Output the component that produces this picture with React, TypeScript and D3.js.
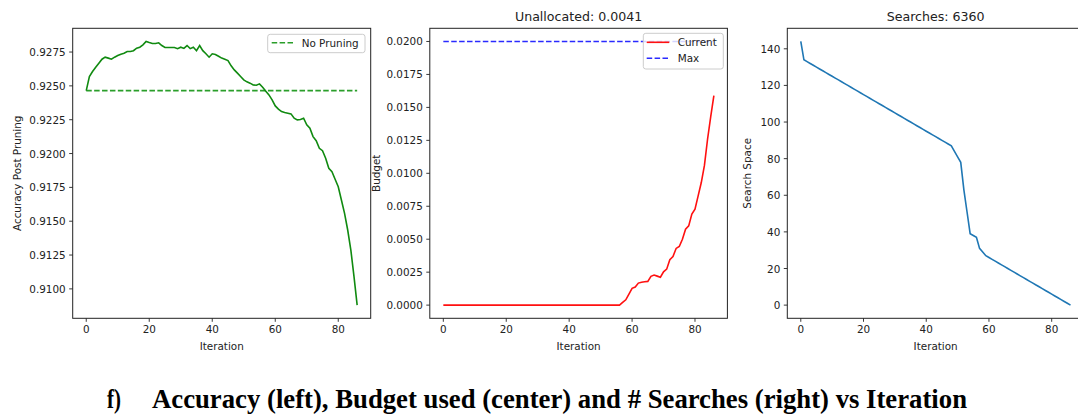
import React from "react";
import * as d3 from "d3";

// ---------- data ----------
const accuracy = [
  0.92465, 0.92569, 0.92606, 0.92638, 0.92668, 0.92697, 0.92712, 0.92705, 0.92697, 0.92712,
  0.92724, 0.92734, 0.92741, 0.92754, 0.92754, 0.9276, 0.92779, 0.92786, 0.92803, 0.92828,
  0.9282, 0.92813, 0.92813, 0.92818, 0.92798, 0.92784, 0.92784, 0.92784, 0.92784, 0.92775,
  0.92786, 0.92777, 0.92798, 0.92775, 0.92786, 0.9276, 0.92798, 0.9276, 0.92737, 0.92712,
  0.92737, 0.92732, 0.92719, 0.92705, 0.92697, 0.92687, 0.92648, 0.92618, 0.92594, 0.92569,
  0.92544, 0.9253, 0.9252, 0.92507, 0.92505, 0.92515, 0.9249, 0.92461, 0.92433, 0.92396,
  0.92352, 0.92328, 0.9231, 0.92303, 0.92298, 0.92293, 0.92261, 0.92249, 0.92251, 0.92261,
  0.92212, 0.92187, 0.92125, 0.92095, 0.92039, 0.92021, 0.91965, 0.91891, 0.91866, 0.9181,
  0.91755, 0.91657, 0.91558, 0.91435, 0.91287, 0.9109, 0.9088,
];
const noPruning = 0.92465;

const budgetCurrent = [
  0, 0, 0, 0, 0, 0, 0, 0, 0, 0,
  0, 0, 0, 0, 0, 0, 0, 0, 0, 0,
  0, 0, 0, 0, 0, 0, 0, 0, 0, 0,
  0, 0, 0, 0, 0, 0, 0, 0, 0, 0,
  0, 0, 0, 0, 0, 0, 0, 0, 0, 0,
  0, 0, 0, 0, 0, 0, 0, 0.0002, 0.0004, 0.00083,
  0.00127, 0.00137, 0.00167, 0.00174, 0.00177, 0.0018, 0.00218, 0.00228, 0.0022, 0.00212,
  0.00253, 0.00273, 0.00344, 0.00369, 0.0043, 0.00445, 0.005, 0.00576, 0.00601, 0.0069,
  0.00728, 0.00829, 0.0093, 0.0106, 0.0126, 0.0143, 0.0159,
];
const budgetMax = 0.02;

const searchSpace = [
  144, 134, 133, 132, 131, 130, 129, 128, 127, 126,
  125, 124, 123, 122, 121, 120, 119, 118, 117, 116,
  115, 114, 113, 112, 111, 110, 109, 108, 107, 106,
  105, 104, 103, 102, 101, 100, 99, 98, 97, 96,
  95, 94, 93, 92, 91, 90, 89, 88, 87, 84,
  81, 78, 63, 51, 39, 38, 37, 31, 29, 27,
  26, 25, 24, 23, 22, 21, 20, 19, 18, 17,
  16, 15, 14, 13, 12, 11, 10, 9, 8, 7,
  6, 5, 4, 3, 2, 1, 0,
];

const iterTicks = [0, 20, 40, 60, 80];
const accTicks = [0.91, 0.9125, 0.915, 0.9175, 0.92, 0.9225, 0.925, 0.9275];
const budgetTicks = [0, 0.0025, 0.005, 0.0075, 0.01, 0.0125, 0.015, 0.0175, 0.02];
const searchTicks = [0, 20, 40, 60, 80, 100, 120, 140];

const titleMiddle = "Unallocated: 0.0041";
const titleRight = "Searches: 6360";
const caption = "Accuracy (left), Budget used (center) and # Searches (right) vs Iteration";

// ---------- layout ----------
const W = 1078;
const H = 414;
const TOP = 28.3;
const BOTTOM = 318.3;
const FONT = "DejaVu Sans, sans-serif";
const TICK_FS = 10.4;

function padDomain(vals: number[]): [number, number] {
  const [lo, hi] = d3.extent(vals) as [number, number];
  const p = (hi - lo) * 0.05;
  return [lo - p, hi + p];
}

type PanelProps = {
  left: number;
  right: number;
  yVals: number[];
  yTicks: number[];
  yFmt: (v: number) => string;
  ylabel: string;
  ylabelX: number;
  title?: string;
  children: (x: d3.ScaleLinear<number, number>, y: d3.ScaleLinear<number, number>) => React.ReactNode;
};

const iters = accuracy.map((_, i) => i);

function Panel({ left, right, yVals, yTicks, yFmt, ylabel, ylabelX, title, children }: PanelProps) {
  const x = d3.scaleLinear().domain(padDomain(iters)).range([left, right]);
  const y = d3.scaleLinear().domain(padDomain(yVals)).range([BOTTOM, TOP]);
  const cx = (left + right) / 2;
  return (
    <g>
      {children(x, y)}
      <rect x={left} y={TOP} width={right - left} height={BOTTOM - TOP} fill="none" stroke="#222" strokeWidth={1} />
      {iterTicks.map((t) => (
        <g key={"x" + t}>
          <line x1={x(t)} x2={x(t)} y1={BOTTOM} y2={BOTTOM + 3.5} stroke="#222" strokeWidth={0.9} />
          <text x={x(t)} y={BOTTOM + 7} fontSize={TICK_FS} textAnchor="middle" dominantBaseline="hanging" fill="#222" fontFamily={FONT}>
            {t}
          </text>
        </g>
      ))}
      {yTicks.map((t) => (
        <g key={"y" + t}>
          <line x1={left - 3.5} x2={left} y1={y(t)} y2={y(t)} stroke="#222" strokeWidth={0.9} />
          <text x={left - 7} y={y(t)} fontSize={TICK_FS} textAnchor="end" dominantBaseline="central" fill="#222" fontFamily={FONT}>
            {yFmt(t)}
          </text>
        </g>
      ))}
      <text x={cx} y={349.5} fontSize={TICK_FS} textAnchor="middle" fill="#222" fontFamily={FONT}>
        Iteration
      </text>
      <text
        transform={`translate(${ylabelX},${(TOP + BOTTOM) / 2}) rotate(-90)`}
        fontSize={TICK_FS}
        textAnchor="middle"
        dominantBaseline="central"
        fill="#222"
        fontFamily={FONT}
      >
        {ylabel}
      </text>
      {title && (
        <text x={cx} y={21} fontSize={12.6} textAnchor="middle" fill="#222" fontFamily={FONT}>
          {title}
        </text>
      )}
    </g>
  );
}

const f4 = d3.format(".4f");

export default function App() {
  return (
    <svg width={W} height={H} style={{ position: "fixed", left: 0, top: 0, background: "#fff" }}>
      <rect x={0} y={0} width={W} height={H} fill="#fff" />
      {/* Left: accuracy */}
      <Panel left={72.7} right={370.7} yVals={[...accuracy, noPruning]} yTicks={accTicks} yFmt={f4} ylabel="Accuracy Post Pruning" ylabelX={16.7}>
        {(x, y) => {
          const line = d3.line<number>().x((_, i) => x(i)).y((d) => y(d));
          return (
            <g>
              <line x1={x(0)} x2={x(iters.length - 1)} y1={y(noPruning)} y2={y(noPruning)} stroke="#2a9e2a" strokeWidth={1.6} strokeDasharray="5.5,2.4" />
              <path d={line(accuracy) || ""} fill="none" stroke="#108a10" strokeWidth={1.6} />
              <rect x={267.7} y={34.3} width={97.3} height={18.4} rx={2.5} fill="#fff" fillOpacity={0.8} stroke="#ccc" strokeWidth={1} />
              <line x1={271.7} x2={293.3} y1={42.8} y2={42.8} stroke="#2a9e2a" strokeWidth={1.6} strokeDasharray="5.5,2.4" />
              <text x={301.7} y={42.8} fontSize={TICK_FS} dominantBaseline="central" fill="#222" fontFamily={FONT}>
                No Pruning
              </text>
            </g>
          );
        }}
      </Panel>
      {/* Middle: budget */}
      <Panel left={429.8} right={727.4} yVals={[...budgetCurrent, budgetMax]} yTicks={budgetTicks} yFmt={f4} ylabel="Budget" ylabelX={375.5} title={titleMiddle}>
        {(x, y) => {
          const line = d3.line<number>().x((_, i) => x(i)).y((d) => y(d));
          return (
            <g>
              <path d={line(budgetCurrent) || ""} fill="none" stroke="#ff1010" strokeWidth={1.6} />
              <line x1={x(0)} x2={x(iters.length - 1)} y1={y(budgetMax)} y2={y(budgetMax)} stroke="#2a2aff" strokeWidth={1.6} strokeDasharray="5.5,2.4" />
              <rect x={643.3} y={33.3} width={80} height={35.7} rx={2.5} fill="#fff" fillOpacity={0.8} stroke="#ccc" strokeWidth={1} />
              <line x1={646.7} x2={669.3} y1={42.3} y2={42.3} stroke="#ff1010" strokeWidth={1.6} />
              <text x={677.7} y={42.3} fontSize={TICK_FS} dominantBaseline="central" fill="#222" fontFamily={FONT}>
                Current
              </text>
              <line x1={646.7} x2={669.3} y1={58.3} y2={58.3} stroke="#2a2aff" strokeWidth={1.6} strokeDasharray="5.5,2.4" />
              <text x={677.7} y={58.3} fontSize={TICK_FS} dominantBaseline="central" fill="#222" fontFamily={FONT}>
                Max
              </text>
            </g>
          );
        }}
      </Panel>
      {/* Right: search space */}
      <Panel left={787.3} right={1084} yVals={searchSpace} yTicks={searchTicks} yFmt={(v) => String(v)} ylabel="Search Space" ylabelX={746.7} title={titleRight}>
        {(x, y) => {
          const line = d3.line<number>().x((_, i) => x(i)).y((d) => y(d));
          return <path d={line(searchSpace) || ""} fill="none" stroke="#1f77b4" strokeWidth={1.6} />;
        }}
      </Panel>
      {/* Caption */}
      <text x={107} y={407.5} fontSize={28} fontWeight="bold" fontFamily="Liberation Serif, Times New Roman, serif" fill="#000" textLength={14} lengthAdjust="spacingAndGlyphs">
        f)
      </text>
      <text x={152} y={407.5} fontSize={28} fontWeight="bold" fontFamily="Liberation Serif, Times New Roman, serif" fill="#000" textLength={815} lengthAdjust="spacingAndGlyphs">
        {caption}
      </text>
    </svg>
  );
}
